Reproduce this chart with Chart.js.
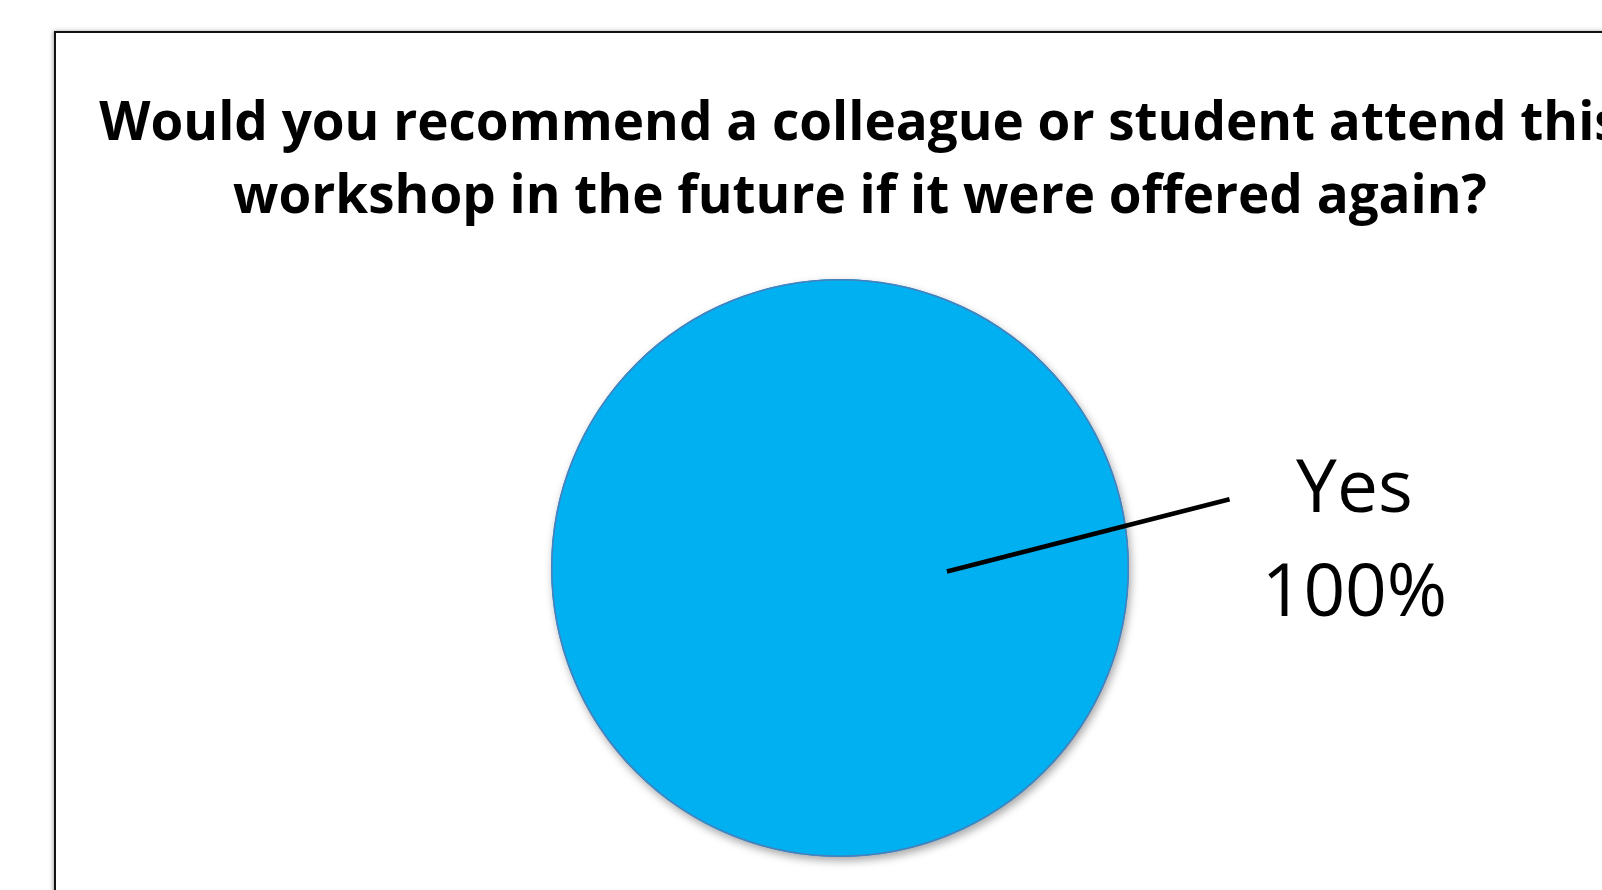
<!DOCTYPE html>
<html>
<head>
<meta charset="utf-8">
<script src="https://cdn.jsdelivr.net/npm/chart.js@4"></script>
<style>
  html, body { margin: 0; padding: 0; width: 1602px; height: 890px; overflow: hidden; background: #fff; }
  #frame { position: absolute; left: 54px; top: 31px; width: 1700px; height: 1000px;
           border: 2px solid #111; box-shadow: -1px 0 4px rgba(0,0,0,0.35); }
  #title { position: absolute; left: -40px; top: 83px; width: 1800px; text-align: center;
           font-family: "Open Sans", sans-serif; font-weight: 700; font-size: 53px; line-height: 73px;
           white-space: pre; color: #000; }
  #c { position: absolute; left: 0; top: 0; }
</style>
</head>
<body>
<div id="frame"></div>
<div id="title"></div>
<canvas id="c" width="1602" height="890"></canvas>
<script>
const titleLines = ["Would you recommend a colleague or student attend this", "workshop in the future if it were offered again?"];
const categories = ["Yes"];
const values = [100];
const colors = ["#00B0F0"];

document.getElementById('title').textContent = titleLines.join("\n");

const leaderPlugin = {
  id: 'leader',
  beforeDatasetsDraw(chart) {
    const ctx = chart.ctx;
    ctx.save();
    ctx.shadowColor = 'rgba(0,0,0,0.35)';
    ctx.shadowBlur = 9;
    ctx.shadowOffsetX = 2;
    ctx.shadowOffsetY = 4;
  },
  afterDatasetsDraw(chart) {
    const ctx = chart.ctx;
    ctx.restore();
    const meta = chart.getDatasetMeta(0);
    const total = values.reduce((a, b) => a + b, 0);
    meta.data.forEach((arc, i) => {
      const R = arc.outerRadius;
      const cx = arc.x, cy = arc.y;
      ctx.save();
      // outline of the full pie
      ctx.strokeStyle = '#4A7EBB';
      ctx.lineWidth = 1.5;
      ctx.beginPath();
      ctx.arc(cx, cy, R - 0.75, 0, Math.PI * 2);
      ctx.stroke();
      // leader line
      ctx.strokeStyle = '#000';
      ctx.lineWidth = 4.5;
      ctx.beginPath();
      ctx.moveTo(cx + 0.37 * R, cy + 0.012 * R);
      ctx.lineTo(cx + 1.348 * R, cy - 0.238 * R);
      ctx.stroke();
      ctx.fillStyle = '#000';
      ctx.font = '73px "Open Sans", sans-serif';
      ctx.textAlign = 'center';
      ctx.textBaseline = 'alphabetic';
      const tx = cx + 1.78 * R;
      ctx.fillText(categories[i], tx, cy - 0.1925 * R);
      ctx.fillText(Math.round(values[i] / total * 100) + '%', tx, cy + 0.165 * R);
      ctx.restore();
    });
  }
};

new Chart(document.getElementById('c'), {
  type: 'pie',
  data: {
    labels: categories,
    datasets: [{
      data: values,
      backgroundColor: colors,
      borderWidth: 0
    }]
  },
  options: {
    responsive: false,
    animation: false,
    layout: { padding: { top: 279, bottom: 33, left: 551, right: 473 } },
    plugins: {
      legend: { display: false },
      title: { display: false },
      tooltip: { enabled: false }
    }
  },
  plugins: [leaderPlugin]
});
</script>
</body>
</html>
